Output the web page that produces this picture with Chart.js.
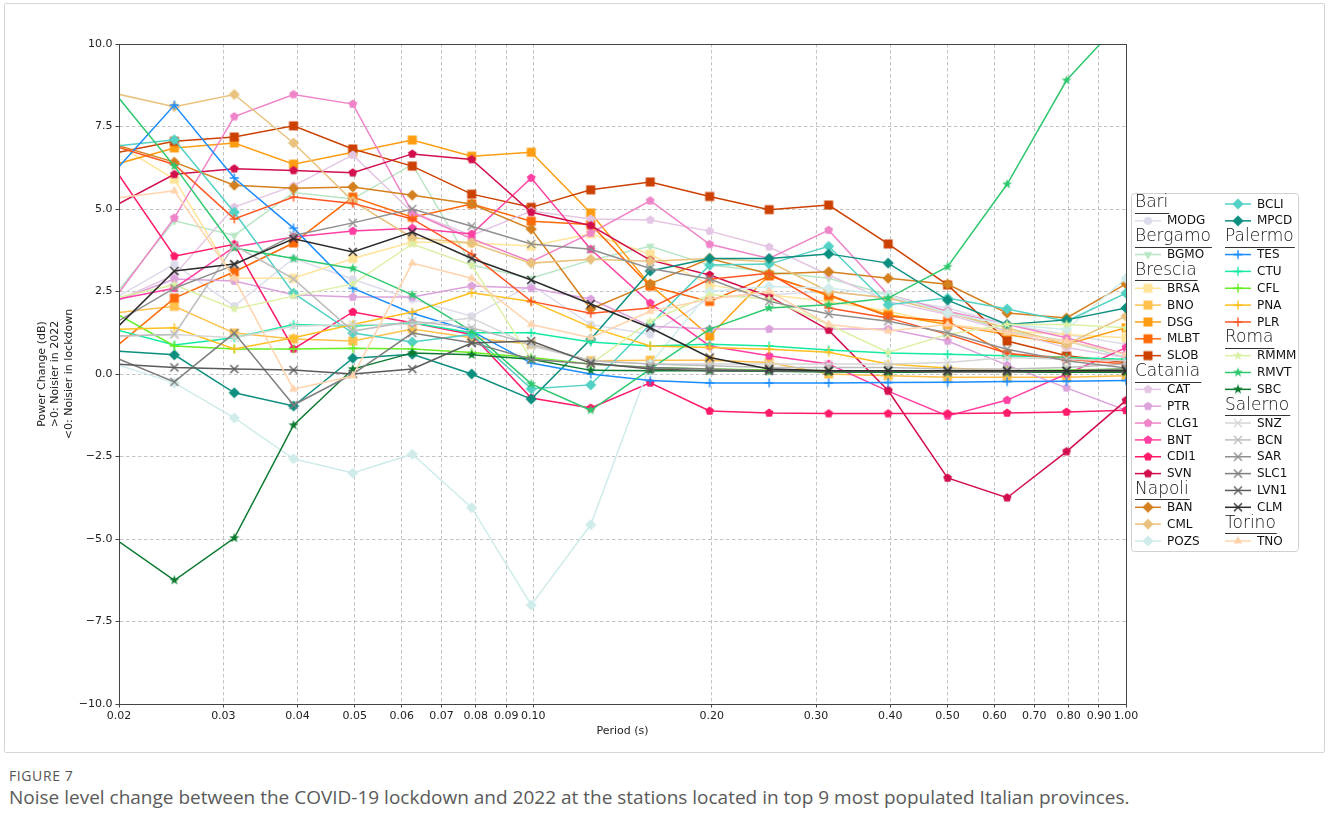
<!DOCTYPE html>
<html><head><meta charset="utf-8">
<script src="https://cdn.jsdelivr.net/npm/chart.js@4/dist/chart.umd.min.js"></script>
<style>
html,body{margin:0;padding:0;background:#fff;width:1328px;height:831px;overflow:hidden;}
#frame{position:absolute;left:4px;top:3px;width:1319px;height:748px;border:1px solid #d6d6d6;border-radius:2px;}
#wrap{position:absolute;left:0;top:0;width:1328px;height:760px;}
#fig{position:absolute;left:9px;top:766px;font-family:'Open Sans';font-size:14px;color:#555;letter-spacing:0.6px;}
#cap{position:absolute;left:9px;top:784px;font-family:'Open Sans';font-size:19px;color:#5a5a5a;white-space:nowrap;}
</style></head>
<body>
<div id="frame"></div>
<div id="wrap"><canvas id="c" width="1328" height="760"></canvas></div>
<div id="fig">FIGURE 7</div>
<div id="cap">Noise level change between the COVID-19 lockdown and 2022 at the stations located in top 9 most populated Italian provinces.</div>
<script>
// ---------------- DATA ----------------
const periods = [0.0197, 0.0248, 0.0313, 0.0394, 0.0496, 0.0625, 0.0787, 0.0992, 0.125, 0.1575, 0.1984, 0.25, 0.315, 0.3969, 0.5, 0.63, 0.7937, 1.0];
const xTicks = [0.02,0.03,0.04,0.05,0.06,0.07,0.08,0.09,0.1,0.2,0.3,0.4,0.5,0.6,0.7,0.8,0.9,1.0];
const provinces = ['Bari','Bergamo','Brescia','Catania','Napoli','Palermo','Roma','Salerno','Torino'];
const stationsBari = ['MODG'];
const stationsBergamo = ['BGMO'];
const stationsBrescia = ['BRSA','BNO','DSG','MLBT','SLOB'];
const stationsCatania = ['CAT','PTR','CLG1','BNT','CDI1','SVN'];
const stationsNapoli = ['BAN','CML','POZS','BCLI','MPCD'];
const stationsPalermo = ['TES','CTU','CFL','PNA','PLR'];
const stationsRoma = ['RMMM','RMVT','SBC'];
const stationsSalerno = ['SNZ','BCN','SAR','SLC1','LVN1','CLM'];
const stationsTorino = ['TNO'];

const MODG = [2.3, 3.33, 2.06, 3.5, 2.87, 2.26, 1.75, 2.7, 1.5, 1.2, 2.3, 2.4, 2.5, 2.3, 2.0, 1.5, 1.2, 0.9];
const BGMO = [2.4, 4.64, 4.2, 5.5, 5.3, 6.35, 3.3, 2.9, 3.45, 3.87, 3.3, 3.1, 2.9, 2.4, 1.9, 1.3, 1.0, 0.5];
const BRSA = [7.0, 5.9, 2.9, 2.9, 3.5, 4.0, 3.97, 3.88, 4.25, 3.63, 2.7, 2.4, 2.2, 1.9, 1.5, 1.3, 1.2, 1.1];
const BNO  = [1.85, 2.05, 1.24, 1.06, 1.0, 1.36, 1.1, 0.9, 0.4, 0.42, 0.42, 0.35, 0.0, -0.05, -0.1, -0.1, -0.1, -0.05];
const DSG  = [6.35, 6.85, 7.0, 6.36, 6.72, 7.09, 6.6, 6.72, 4.88, 2.7, 1.15, 3.0, 2.36, 1.8, 1.5, 1.2, 0.9, 1.4];
const MLBT = [0.8, 2.3, 3.1, 3.97, 5.36, 4.75, 5.15, 4.63, 4.53, 2.66, 2.2, 2.97, 2.4, 1.75, 1.6, 0.6, 0.5, 0.4];
const SLOB = [6.7, 7.05, 7.18, 7.52, 6.82, 6.3, 5.45, 5.05, 5.58, 5.82, 5.38, 4.98, 5.12, 3.94, 2.7, 1.0, 0.55, 0.35];
const CAT  = [2.2, 3.0, 5.06, 5.7, 6.64, 4.9, 4.2, 4.94, 4.7, 4.67, 4.33, 3.85, 3.0, 2.2, 1.8, 1.3, 0.8, 0.5];
const PTR  = [2.2, 2.88, 2.82, 2.4, 2.33, 2.33, 2.67, 2.6, 2.27, 1.45, 1.36, 1.36, 1.36, 1.36, 1.0, 0.27, -0.42, -1.1];
const CLG1 = [2.3, 4.73, 7.8, 8.47, 8.18, 4.9, 4.1, 3.4, 4.27, 5.25, 3.93, 3.5, 4.36, 2.4, 1.9, 1.5, 1.1, 0.6];
const BNT  = [2.25, 2.6, 3.85, 4.15, 4.33, 4.42, 4.24, 5.94, 3.78, 2.15, 0.85, 0.55, 0.3, -0.52, -1.27, -0.79, 0.0, 0.8];
const CDI1 = [6.2, 3.57, 3.93, 0.76, 1.88, 1.55, 1.2, -0.73, -1.03, -0.27, -1.12, -1.18, -1.2, -1.2, -1.2, -1.18, -1.15, -1.1];
const SVN  = [5.1, 6.05, 6.22, 6.17, 6.1, 6.67, 6.5, 4.9, 4.5, 3.45, 3.0, 2.35, 1.33, -0.5, -3.15, -3.75, -2.35, -0.8];
const BAN  = [6.95, 6.42, 5.72, 5.63, 5.67, 5.42, 5.15, 4.39, 1.97, 2.73, 3.5, 3.03, 3.1, 2.9, 2.72, 1.85, 1.7, 2.73];
const CML  = [8.5, 8.1, 8.47, 7.0, 5.24, 4.13, 3.97, 3.36, 3.48, 3.42, 3.5, 3.4, 2.5, 2.3, 1.85, 1.4, 0.9, 1.75];
const POZS = [0.3, -0.27, -1.33, -2.57, -3.0, -2.43, -4.05, -7.0, -4.57, 0.3, 2.5, 2.65, 2.6, 2.4, 1.85, 1.5, 1.35, 2.9];
const BCLI = [6.9, 7.1, 4.9, 2.45, 1.24, 0.97, 1.2, -0.45, -0.33, 1.5, 3.3, 3.33, 3.87, 2.1, 2.3, 1.97, 1.6, 2.45];
const MPCD = [0.7, 0.58, -0.57, -0.97, 0.48, 0.6, 0.0, -0.76, 1.05, 3.12, 3.5, 3.5, 3.64, 3.36, 2.24, 1.5, 1.64, 2.0];
const TES  = [6.15, 8.15, 5.94, 4.42, 2.6, 1.84, 1.3, 0.33, 0.0, -0.2, -0.27, -0.27, -0.27, -0.26, -0.25, -0.23, -0.22, -0.2];
const CTU  = [1.35, 0.88, 1.1, 1.5, 1.45, 1.55, 1.25, 1.25, 0.97, 0.85, 0.9, 0.85, 0.73, 0.64, 0.6, 0.55, 0.5, 0.45];
const CFL  = [1.85, 0.85, 0.76, 0.76, 0.78, 0.76, 0.65, 0.5, 0.3, 0.2, 0.15, 0.12, 0.1, 0.1, 0.1, 0.1, 0.12, 0.15];
const PNA  = [1.35, 1.4, 0.76, 1.1, 1.5, 1.88, 2.46, 2.2, 1.42, 0.85, 0.8, 0.75, 0.66, 0.3, 0.18, 0.1, 0.05, 0.05];
const PLR  = [6.9, 6.35, 4.7, 5.36, 5.17, 4.7, 3.63, 2.2, 1.84, 2.0, 2.87, 3.05, 2.0, 1.7, 1.2, 0.63, 0.45, 0.3];
const RMMM = [2.3, 2.7, 1.97, 2.36, 2.73, 3.94, 3.3, 0.45, 0.3, 1.6, 2.4, 2.27, 1.5, 0.65, 1.2, 1.5, 1.5, 1.4];
const RMVT = [8.5, 6.3, 3.82, 3.5, 3.2, 2.4, 1.3, -0.3, -1.1, 0.15, 1.36, 2.0, 2.1, 2.3, 3.25, 5.75, 8.9, 10.85];
const SBC  = [-5.0, -6.25, -4.97, -1.55, 0.15, 0.64, 0.58, 0.45, 0.11, 0.1, 0.1, 0.08, 0.06, 0.05, 0.05, 0.05, 0.05, 0.05];
const SNZ  = [1.15, 1.2, 1.1, 1.45, 1.5, 1.5, 1.7, 0.85, 0.4, 0.3, 0.3, 0.3, 0.3, 0.3, 0.35, 0.5, 0.45, 0.4];
const BCN  = [1.15, 1.2, 3.9, 2.88, 1.3, 1.6, 1.4, 0.9, 0.4, 0.3, 0.25, 0.2, 0.2, 0.2, 0.15, 0.15, 0.2, 0.3];
const SAR  = [1.55, 2.6, 3.3, 4.2, 4.58, 5.0, 4.48, 3.94, 3.78, 3.2, 2.88, 2.2, 1.82, 1.6, 1.25, 0.75, 0.4, 0.18];
const SLC1 = [0.5, -0.24, 1.24, -0.94, 0.0, 1.24, 0.95, 0.45, 0.3, 0.2, 0.15, 0.1, 0.1, 0.1, 0.05, 0.05, 0.1, 0.15];
const LVN1 = [0.3, 0.2, 0.15, 0.12, 0.0, 0.15, 0.94, 1.0, 0.33, 0.15, 0.1, 0.1, 0.1, 0.1, 0.1, 0.1, 0.1, 0.1];
const CLM  = [1.35, 3.12, 3.33, 4.1, 3.7, 4.3, 3.5, 2.85, 2.12, 1.4, 0.5, 0.15, 0.1, 0.1, 0.1, 0.1, 0.1, 0.1];
const TNO  = [5.33, 5.55, 2.9, -0.46, -0.06, 3.36, 2.9, 1.5, 1.1, 1.9, 2.27, 2.5, 1.5, 1.3, 1.5, 1.25, 1.0, 0.6];

// ---------------- STYLE ----------------
const seriesValues = {MODG,BGMO,BRSA,BNO,DSG,MLBT,SLOB,CAT,PTR,CLG1,BNT,CDI1,SVN,BAN,CML,POZS,BCLI,MPCD,TES,CTU,CFL,PNA,PLR,RMMM,RMVT,SBC,SNZ,BCN,SAR,SLC1,LVN1,CLM,TNO};
const stationGroups = [stationsBari,stationsBergamo,stationsBrescia,stationsCatania,stationsNapoli,stationsPalermo,stationsRoma,stationsSalerno,stationsTorino];
const groupMarker = ['circle','tridown','square','pentagon','diamond','plus','star','cross','triup'];
const colors = {
  MODG:'#dcdcec', BGMO:'#b8e6c4',
  BRSA:'#ffe49a', BNO:'#ffc04c', DSG:'#ff9d12', MLBT:'#ff6a08', SLOB:'#cc4000',
  CAT:'#e4c6e4', PTR:'#dca2dc', CLG1:'#ef84c8', BNT:'#ff40a2', CDI1:'#ff1a6a', SVN:'#d20f4c',
  BAN:'#d4801e', CML:'#e9c27e', POZS:'#cfeceb', BCLI:'#52d1c4', MPCD:'#0d8f80',
  TES:'#1a8cff', CTU:'#14eba0', CFL:'#66ee22', PNA:'#ffbf1f', PLR:'#ff5522',
  RMMM:'#dcf0a4', RMVT:'#2ec86e', SBC:'#0b7a2f',
  SNZ:'#d6d6d6', BCN:'#bdbdbd', SAR:'#8f8f8f', SLC1:'#7e7e7e', LVN1:'#5a5a5a', CLM:'#2b2b2b',
  TNO:'#ffd3ac'
};

function makeMarker(shape, color) {
  const S = 16, c = document.createElement('canvas'); c.width = S; c.height = S;
  const g = c.getContext('2d'); const cx = S/2, cy = S/2;
  g.fillStyle = color; g.strokeStyle = color; g.lineWidth = 1.4;
  const poly = (n, r, rot, inner) => {
    g.beginPath();
    const pts = inner ? n*2 : n;
    for (let i=0;i<pts;i++){
      const a = rot + i*2*Math.PI/pts;
      const rr = inner ? (i%2===0 ? r : inner) : r;
      const x = cx + rr*Math.cos(a), y = cy + rr*Math.sin(a);
      i ? g.lineTo(x,y) : g.moveTo(x,y);
    }
    g.closePath(); g.fill();
  };
  switch(shape){
    case 'circle': g.beginPath(); g.arc(cx,cy,4,0,2*Math.PI); g.fill(); break;
    case 'square': g.fillRect(cx-4.5,cy-4.5,9,9); break;
    case 'diamond': poly(4,5.6,-Math.PI/2); break;
    case 'pentagon': poly(5,4.6,-Math.PI/2); break;
    case 'star': poly(5,5.2,-Math.PI/2,2.1); break;
    case 'tridown': poly(3,5,Math.PI/2); break;
    case 'triup': poly(3,5,-Math.PI/2); break;
    case 'plus': g.beginPath(); g.moveTo(cx-4.5,cy); g.lineTo(cx+4.5,cy); g.moveTo(cx,cy-4.5); g.lineTo(cx,cy+4.5); g.stroke(); break;
    case 'cross': g.beginPath(); g.moveTo(cx-4,cy-4); g.lineTo(cx+4,cy+4); g.moveTo(cx+4,cy-4); g.lineTo(cx-4,cy+4); g.stroke(); break;
  }
  return c;
}

const markers = {};
stationGroups.forEach((grp, gi) => grp.forEach(s => { markers[s] = makeMarker(groupMarker[gi], colors[s]); }));

const allStations = stationGroups.flat();
const datasets = allStations.map((s, i) => ({
  label: s,
  data: periods.map((p, k) => ({x: p, y: seriesValues[s][k]})),
  borderColor: colors[s],
  backgroundColor: colors[s],
  borderWidth: 1.5,
  pointStyle: markers[s],
  pointRadius: 4,
  pointHoverRadius: 4,
  tension: 0,
  clip: 0,
  order: allStations.length - i
}));

// legend rows
const legendRows = [];
provinces.forEach((p, gi) => { legendRows.push({header: p}); stationGroups[gi].forEach(s => legendRows.push({station: s})); });

const frameAndLegend = {
  id: 'frameAndLegend',
  afterDatasetsDraw(chart) {
    const {ctx, chartArea: a} = chart;
    ctx.save();
    ctx.strokeStyle = '#444'; ctx.lineWidth = 1;
    ctx.strokeRect(Math.round(a.left)+0.5, Math.round(a.top)+0.5, Math.round(a.right-a.left), Math.round(a.bottom-a.top));
    ctx.restore();
  },
  afterDraw(chart) {
    const ctx = chart.ctx;
    ctx.save();
    const bx = 1131.5, by = 193.5, bw = 167, bh = 358, r = 3;
    ctx.beginPath();
    ctx.moveTo(bx+r,by); ctx.lineTo(bx+bw-r,by); ctx.quadraticCurveTo(bx+bw,by,bx+bw,by+r);
    ctx.lineTo(bx+bw,by+bh-r); ctx.quadraticCurveTo(bx+bw,by+bh,bx+bw-r,by+bh);
    ctx.lineTo(bx+r,by+bh); ctx.quadraticCurveTo(bx,by+bh,bx,by+bh-r);
    ctx.lineTo(bx,by+r); ctx.quadraticCurveTo(bx,by,bx+r,by); ctx.closePath();
    ctx.fillStyle = 'rgba(255,255,255,0.85)'; ctx.fill();
    ctx.strokeStyle = '#d0d0d0'; ctx.lineWidth = 1; ctx.stroke();
    const half = Math.ceil(legendRows.length/2);
    const colX = [1135, 1225];
    const y0 = 204, dy = 16.85;
    legendRows.forEach((row, idx) => {
      const col = idx < half ? 0 : 1;
      const i = idx < half ? idx : idx - half;
      const x = colX[col], y = y0 + i*dy;
      if (row.header) {
        ctx.font = '300 17px "DejaVu Sans"';
        ctx.fillStyle = '#111'; ctx.textBaseline = 'middle'; ctx.textAlign = 'left';
        ctx.fillText(row.header, x, y - 1);
        const w = ctx.measureText(row.header).width;
        ctx.strokeStyle = '#333'; ctx.lineWidth = 1;
        ctx.beginPath(); ctx.moveTo(x, Math.round(y + 9) + 0.5); ctx.lineTo(x + w + 1, Math.round(y + 9) + 0.5); ctx.stroke();
      } else {
        const s = row.station;
        ctx.strokeStyle = colors[s]; ctx.lineWidth = 1.5;
        ctx.beginPath(); ctx.moveTo(x, y); ctx.lineTo(x + 26, y); ctx.stroke();
        const m = markers[s];
        ctx.drawImage(m, x + 13 - m.width/2, y - m.height/2);
        ctx.font = '12px "DejaVu Sans"';
        ctx.fillStyle = '#111'; ctx.textBaseline = 'middle'; ctx.textAlign = 'left';
        ctx.fillText(s, x + 32, y + 0.5);
      }
    });
    ctx.restore();
  }
};

Chart.defaults.font.family = '"DejaVu Sans"';
Chart.defaults.color = '#222';

new Chart(document.getElementById('c'), {
  type: 'line',
  data: { datasets },
  options: {
    responsive: false,
    animation: false,
    events: [],
    layout: { padding: { left: 35, right: 202, top: 44, bottom: 18 } },
    plugins: { legend: { display: false }, tooltip: { enabled: false } },
    scales: {
      x: {
        type: 'logarithmic',
        min: 0.02, max: 1.0,
        afterBuildTicks: (s) => { s.ticks = xTicks.map(v => ({value: v})); s.min = 0.02; s.max = 1.0; },
        afterFit: (s) => { s.height = 38; },
        ticks: { autoSkip: false, maxRotation: 0, minRotation: 0, padding: 2, color: '#222', font: { size: 11 },
                 callback: (v) => Number(v).toFixed(2) },
        grid: { color: '#b4b4b4', lineWidth: 0.8, tickLength: 3.5, tickColor: '#444', tickWidth: 1 },
        border: { display: true, color: '#444', width: 1, dash: [3.5, 2.5] },
        title: { display: true, text: 'Period (s)', color: '#222', font: { size: 11 }, padding: { top: 0, bottom: 4 } }
      },
      y: {
        type: 'linear',
        min: -10, max: 10,
        afterFit: (s) => { s.width = 84; },
        ticks: { stepSize: 2.5, padding: 3, color: '#222', font: { size: 11 },
                 callback: (v) => Number(v).toFixed(1).replace('-', '\u2212') },
        grid: { color: '#b4b4b4', lineWidth: 0.8, tickLength: 3.5, tickColor: '#444', tickWidth: 1 },
        border: { display: true, color: '#444', width: 1, dash: [3.5, 2.5] },
        title: { display: true, text: ['Power Change (dB)', '>0: Noisier in 2022', '<0: Noisier in lockdown'],
                 color: '#222', font: { size: 11, lineHeight: 1.25 }, padding: { top: 0, bottom: 0 } }
      }
    }
  },
  plugins: [frameAndLegend]
});
</script>
</body></html>
